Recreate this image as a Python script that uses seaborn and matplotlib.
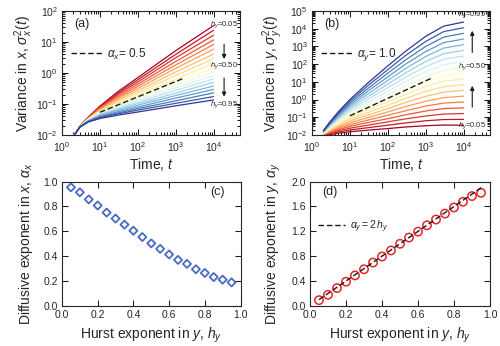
import numpy as np
import pandas as pd
import matplotlib
matplotlib.use("Agg")
import matplotlib.pyplot as plt
import matplotlib.ticker as mticker
import seaborn as sns

# ---------------- data ----------------
hurst = [0.05, 0.10, 0.15, 0.20, 0.25, 0.30, 0.35, 0.40, 0.45, 0.50,
         0.55, 0.60, 0.65, 0.70, 0.75, 0.80, 0.85, 0.90, 0.95]

# panel (a): log10 of variance in x, one row per h_y
time_a = [2, 3, 5, 10, 30, 100, 1000, 10000]
log_var_x = [
    [-2.05, -1.70, -1.42, -1.07, -0.60, -0.15, 0.72, 1.53],
    [-2.05, -1.70, -1.43, -1.09, -0.65, -0.22, 0.60, 1.38],
    [-2.05, -1.70, -1.44, -1.11, -0.69, -0.29, 0.49, 1.22],
    [-2.05, -1.71, -1.45, -1.13, -0.74, -0.36, 0.37, 1.07],
    [-2.05, -1.71, -1.46, -1.15, -0.79, -0.43, 0.26, 0.92],
    [-2.05, -1.71, -1.46, -1.18, -0.83, -0.50, 0.15, 0.77],
    [-2.05, -1.71, -1.47, -1.20, -0.88, -0.57, 0.03, 0.61],
    [-2.05, -1.72, -1.48, -1.22, -0.93, -0.64, -0.08, 0.46],
    [-2.05, -1.72, -1.49, -1.24, -0.97, -0.71, -0.20, 0.31],
    [-2.05, -1.72, -1.50, -1.26, -1.02, -0.78, -0.31, 0.15],
    [-2.05, -1.72, -1.51, -1.28, -1.06, -0.83, -0.40, 0.04],
    [-2.05, -1.72, -1.52, -1.31, -1.10, -0.88, -0.48, -0.08],
    [-2.05, -1.73, -1.53, -1.33, -1.13, -0.94, -0.56, -0.19],
    [-2.05, -1.73, -1.54, -1.35, -1.17, -0.99, -0.65, -0.30],
    [-2.05, -1.73, -1.54, -1.37, -1.21, -1.04, -0.73, -0.42],
    [-2.05, -1.73, -1.55, -1.40, -1.25, -1.10, -0.81, -0.53],
    [-2.05, -1.74, -1.56, -1.42, -1.29, -1.15, -0.90, -0.64],
    [-2.05, -1.74, -1.57, -1.44, -1.32, -1.20, -0.98, -0.76],
    [-2.05, -1.74, -1.58, -1.47, -1.36, -1.26, -1.06, -0.87],
]

# panel (b): log10 of variance in y, one row per h_y
time_b = [2, 3, 5, 10, 30, 100, 300, 1000, 3000, 10000]
log_var_y = [
    [-2.05, -1.98, -1.90, -1.82, -1.73, -1.64, -1.55, -1.48, -1.44, -1.45],
    [-2.03, -1.94, -1.83, -1.72, -1.59, -1.45, -1.32, -1.20, -1.13, -1.12],
    [-2.02, -1.90, -1.76, -1.62, -1.45, -1.26, -1.09, -0.93, -0.82, -0.79],
    [-2.00, -1.86, -1.70, -1.52, -1.30, -1.08, -0.86, -0.65, -0.51, -0.47],
    [-1.98, -1.82, -1.63, -1.42, -1.16, -0.89, -0.63, -0.37, -0.20, -0.14],
    [-1.97, -1.78, -1.56, -1.31, -1.02, -0.70, -0.39, -0.10, 0.11, 0.19],
    [-1.95, -1.74, -1.49, -1.21, -0.88, -0.51, -0.16, 0.18, 0.42, 0.52],
    [-1.93, -1.70, -1.43, -1.11, -0.73, -0.33, 0.07, 0.46, 0.73, 0.84],
    [-1.92, -1.66, -1.36, -1.01, -0.59, -0.14, 0.30, 0.73, 1.04, 1.17],
    [-1.90, -1.61, -1.29, -0.91, -0.45, 0.05, 0.53, 1.01, 1.35, 1.50],
    [-1.88, -1.57, -1.22, -0.81, -0.30, 0.26, 0.78, 1.29, 1.66, 1.82],
    [-1.87, -1.53, -1.15, -0.71, -0.14, 0.46, 1.02, 1.58, 1.97, 2.14],
    [-1.85, -1.49, -1.09, -0.61, 0.01, 0.67, 1.27, 1.86, 2.28, 2.46],
    [-1.83, -1.45, -1.02, -0.51, 0.17, 0.87, 1.51, 2.15, 2.59, 2.78],
    [-1.82, -1.41, -0.95, -0.40, 0.32, 1.08, 1.76, 2.43, 2.91, 3.10],
    [-1.80, -1.37, -0.88, -0.30, 0.48, 1.28, 2.01, 2.71, 3.22, 3.42],
    [-1.78, -1.33, -0.82, -0.20, 0.63, 1.49, 2.25, 3.00, 3.53, 3.74],
    [-1.77, -1.29, -0.75, -0.10, 0.79, 1.69, 2.50, 3.28, 3.84, 4.06],
    [-1.75, -1.25, -0.68, 0.00, 0.94, 1.90, 2.74, 3.57, 4.15, 4.38],
]

# guide lines
guide_t = [10, 1500]
guide_var_x = [0.054, 0.65]
guide_var_y = [0.12, 17]

# panels (c) and (d)
alpha_x = [0.954, 0.914, 0.857, 0.808, 0.751, 0.703, 0.654, 0.605, 0.554, 0.503,
           0.459, 0.414, 0.370, 0.338, 0.295, 0.265, 0.232, 0.211, 0.189]
alpha_y = [0.092, 0.178, 0.286, 0.389, 0.490, 0.589, 0.697, 0.795, 0.892, 1.000,
           1.100, 1.195, 1.297, 1.390, 1.486, 1.584, 1.676, 1.768, 1.820]
theory_h = [0.05, 0.96]
theory_alpha_y = [0.10, 1.92]

# ---------------- style ----------------
sns.set_theme(style="ticks")
plt.rcParams["font.family"] = ["Liberation Sans", "DejaVu Sans"]
plt.rcParams["mathtext.fontset"] = "custom"
plt.rcParams["mathtext.rm"] = "Liberation Sans"
plt.rcParams["mathtext.it"] = "Liberation Sans:italic"
plt.rcParams["axes.linewidth"] = 0.8

cmap = plt.get_cmap("RdYlBu")
colors = [cmap(v) for v in np.linspace(0.0, 1.0, len(hurst))]
hue_names = [f"{h:.2f}" for h in hurst]


def long_frame(times, rows):
    recs = []
    for name, row in zip(hue_names, rows):
        for t, v in zip(times, row):
            recs.append({"t": t, "var": 10 ** v, "h": name})
    return pd.DataFrame(recs)


def style_axis(ax):
    ax.tick_params(which="both", direction="in", top=True, right=True,
                   labelsize=7.5, width=0.75, pad=3, color="k")
    ax.tick_params(which="major", length=4)
    ax.tick_params(which="minor", length=2.5)


def log_ticks(ax, ymax):
    ax.set_xlim(1, 5e4)
    ax.set_ylim(1e-2, ymax)
    ax.set_xticks([10.0 ** k for k in range(0, 5)])
    ax.set_yticks([10.0 ** k for k in range(-2, int(np.log10(ymax)) + 1)])
    minor = [m * 10.0 ** k for k in range(-2, 5) for m in range(2, 10)]
    ax.set_xticks([v for v in minor if 1 < v < 5e4], minor=True)
    ax.set_yticks([v for v in minor if 1e-2 < v < ymax], minor=True)
    ax.xaxis.set_minor_formatter(mticker.NullFormatter())
    ax.yaxis.set_minor_formatter(mticker.NullFormatter())
    ax.tick_params(axis="x", which="major", pad=4)


fig = plt.figure(figsize=(5, 3.46), dpi=100)
ax_a = fig.add_axes([0.124, 0.610, 0.356, 0.358])
ax_b = fig.add_axes([0.624, 0.610, 0.356, 0.358])
ax_c = fig.add_axes([0.124, 0.116, 0.357, 0.359])
ax_d = fig.add_axes([0.620, 0.116, 0.360, 0.359])

# ---- (a) ----
ax_a.set_xscale("log")
ax_a.set_yscale("log")
sns.lineplot(data=long_frame(time_a, log_var_x), x="t", y="var", hue="h",
             hue_order=hue_names, palette=colors, legend=False,
             estimator=None, sort=False, linewidth=0.9, ax=ax_a)
ax_a.plot(guide_t, guide_var_x, "k--", lw=1.0, dashes=(4, 2), label=r"$\alpha_x$= 0.5")
ax_a.set_xlabel("Time, $t$", fontsize=10, labelpad=1)
ax_a.set_ylabel(r"Variance in $x$, $\sigma_x^2(t)$", fontsize=10, labelpad=1)
ax_a.text(0.07, 0.87, "(a)", transform=ax_a.transAxes, fontsize=9)
ax_a.legend(loc="upper left", bbox_to_anchor=(-0.01, 0.80), frameon=False,
            fontsize=8.5, handlelength=2.6, handletextpad=0.5)
for y, s in [(37, "0.05"), (1.8, "0.50"), (0.093, "0.95")]:
    ax_a.text(1.9e4, y, r"$h_y$=" + s, fontsize=5.5, ha="center", va="center")
ax_a.annotate("", xy=(1.9e4, 2.3), xytext=(1.9e4, 10.5),
              arrowprops=dict(arrowstyle="-|>", color="k", lw=0.8, mutation_scale=6))
ax_a.annotate("", xy=(1.9e4, 0.14), xytext=(1.9e4, 0.85),
              arrowprops=dict(arrowstyle="-|>", color="k", lw=0.8, mutation_scale=6))
style_axis(ax_a)
log_ticks(ax_a, 1e2)

# ---- (b) ----
ax_b.set_xscale("log")
ax_b.set_yscale("log")
sns.lineplot(data=long_frame(time_b, log_var_y), x="t", y="var", hue="h",
             hue_order=hue_names, palette=colors, legend=False,
             estimator=None, sort=False, linewidth=0.9, ax=ax_b)
ax_b.plot(guide_t, guide_var_y, "k--", lw=1.0, dashes=(4, 2), label=r"$\alpha_y$= 1.0")
ax_b.set_xlabel("Time, $t$", fontsize=10, labelpad=1)
ax_b.set_ylabel(r"Variance in $y$, $\sigma_y^2(t)$", fontsize=10, labelpad=1)
ax_b.text(0.07, 0.87, "(b)", transform=ax_b.transAxes, fontsize=9)
ax_b.legend(loc="upper left", bbox_to_anchor=(-0.01, 0.80), frameon=False,
            fontsize=8.5, handlelength=2.6, handletextpad=0.5)
for y, s in [(6.5e4, "0.95"), (70, "0.50"), (0.032, "0.05")]:
    ax_b.text(1.7e4, y, r"$h_y$=" + s, fontsize=5.5, ha="center", va="center")
ax_b.annotate("", xy=(1.7e4, 1.1e4), xytext=(1.7e4, 320),
              arrowprops=dict(arrowstyle="-|>", color="k", lw=0.8, mutation_scale=6))
ax_b.annotate("", xy=(1.7e4, 8.5), xytext=(1.7e4, 0.26),
              arrowprops=dict(arrowstyle="-|>", color="k", lw=0.8, mutation_scale=6))
style_axis(ax_b)
log_ticks(ax_b, 1e5)

# ---- (c) ----
sns.scatterplot(x=hurst, y=alpha_x, marker="D", s=17, facecolor="none",
                edgecolor="#4a6ac4", linewidth=1.3, ax=ax_c)
ax_c.set_xlim(0, 1)
ax_c.set_ylim(0, 1)
ax_c.set_xticks(np.arange(0, 1.01, 0.2))
ax_c.set_yticks(np.arange(0, 1.01, 0.2))
ax_c.xaxis.set_major_formatter(mticker.FormatStrFormatter("%.1f"))
ax_c.yaxis.set_major_formatter(mticker.FormatStrFormatter("%.1f"))
ax_c.set_xlabel("Hurst exponent in $y$, $h_y$", fontsize=10, labelpad=4)
ax_c.set_ylabel(r"Diffusive exponent in $x$, $\alpha_x$", fontsize=10, labelpad=6)
ax_c.text(0.87, 0.89, "(c)", transform=ax_c.transAxes, fontsize=9, ha="center")
style_axis(ax_c)

# ---- (d) ----
ax_d.plot(theory_h, theory_alpha_y, "k--", lw=1.0, dashes=(4, 2),
          label=r"$\alpha_y = 2\,h_y$")
sns.scatterplot(x=hurst, y=alpha_y, marker="o", s=36, facecolor="none",
                edgecolor="#e8242a", linewidth=1.1, ax=ax_d)
ax_d.set_xlim(0, 1)
ax_d.set_ylim(0, 2)
ax_d.set_xticks(np.arange(0, 1.01, 0.2))
ax_d.set_yticks(np.arange(0, 2.01, 0.4))
ax_d.xaxis.set_major_formatter(mticker.FormatStrFormatter("%.1f"))
ax_d.yaxis.set_major_formatter(mticker.FormatStrFormatter("%.1f"))
ax_d.set_xlabel("Hurst exponent in $y$, $h_y$", fontsize=10, labelpad=4)
ax_d.set_ylabel(r"Diffusive exponent in $y$, $\alpha_y$", fontsize=10, labelpad=6)
ax_d.text(0.11, 0.89, "(d)", transform=ax_d.transAxes, fontsize=9, ha="center")
ax_d.legend(loc="upper left", bbox_to_anchor=(-0.01, 0.78), frameon=False,
            fontsize=7.5, handlelength=2.6, handletextpad=0.5)
style_axis(ax_d)

fig.savefig("out.png", dpi=100)
